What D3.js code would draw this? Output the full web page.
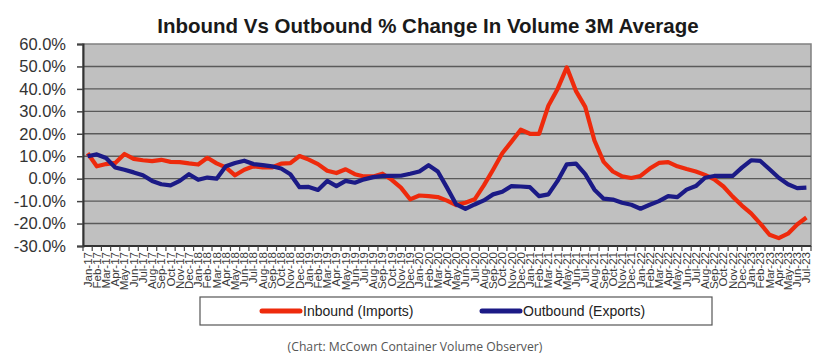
<!DOCTYPE html>
<html>
<head>
    <title></title>
    <meta charset="utf-8" />
    <script src="https://cdn.jsdelivr.net/npm/d3@7"></script>
    <style>
        body { margin: 0; background: #fff; }
        text { font-family: Arial, "Liberation Sans", sans-serif; }
    </style>
</head>
<body>
    <script>
        // months Jan-17 .. Jul-23
        var monthNames = ['Jan', 'Feb', 'Mar', 'Apr', 'May', 'Jun', 'Jul', 'Aug', 'Sep', 'Oct', 'Nov', 'Dec'];
        var months = [];
        for (var y = 17; y <= 23; y++) {
            for (var m = 0; m < 12; m++) {
                if (y == 23 && m > 6) break;
                months.push(monthNames[m] + '-' + y);
            }
        }

        var inbound = [11.3, 5.5, 6.5, 7, 11, 8.8, 8.2, 7.8, 8.4, 7.5, 7.4, 6.8,
            6.3, 9.3, 6.8, 5, 1.5, 4, 5.5, 5, 5, 6.7, 6.9, 10.1,
            8.5, 6.5, 3.5, 2.5, 4.2, 2, 1, 1, 2.2, -0.5, -4, -9.2,
            -7.5, -7.8, -8.2, -9.8, -11.8, -10.7, -9.2, -3, 4, 11.3, 16.5, 21.8,
            20, 20, 32.5, 40, 49.6, 39, 32, 17, 7.5, 3.2, 1, 0.3,
            1.2, 4.5, 7, 7.4, 5.5, 4.3, 3.2, 1.7, -0.3, -3.5, -8, -12,
            -15.5, -20, -25, -26.5, -24.5, -20.4, -17.3];

        var outbound = [10, 10.8, 9.2, 5, 4, 2.8, 1.5, -1, -2.5, -3, -1, 2,
            -0.5, 0.5, 0, 5.5, 7, 8, 6.5, 6, 5.5, 4.5, 2, -3.8,
            -3.7, -5, -1, -3.3, -1, -1.8, -0.3, 0.7, 1.2, 1.2, 1.3, 2.2,
            3.2, 6, 3.2, -4, -11.5, -13.5, -11.5, -9.7, -7, -5.8, -3.3, -3.5,
            -3.8, -7.8, -7, -1, 6.4, 6.7, 2, -4.9, -8.9, -9.3, -10.7, -11.6,
            -13.4, -11.6, -10, -7.8, -8.2, -4.9, -3.3, 0.4, 1.2, 1.2, 1.2, 4.9,
            8.2, 7.9, 4.2, 0.4, -2.5, -4.2, -4];

        var yTicks = [-30, -20, -10, 0, 10, 20, 30, 40, 50, 60];

        var width = 838, height = 362;
        var plotLeft = 83, plotRight = 811, plotTop = 44, plotBottom = 246;

        var svg = d3.select('body').append('svg').attr('width', width).attr('height', height);

        var x = d3.scaleBand().domain(months).range([plotLeft, plotRight]);
        var yScale = d3.scaleLinear().domain([-30, 60]).range([plotBottom, plotTop]);

        // title
        svg.append('text')
            .attr('x', 428).attr('y', 33)
            .attr('text-anchor', 'middle')
            .style('font-size', '20.5px').style('font-weight', 'bold')
            .attr('fill', '#1a1a1a')
            .text('Inbound Vs Outbound % Change In Volume 3M Average');

        // plot area
        svg.append('rect')
            .attr('x', plotLeft).attr('y', plotTop)
            .attr('width', plotRight - plotLeft).attr('height', plotBottom - plotTop)
            .attr('fill', '#c0c0c0')
            .attr('stroke', '#808080').attr('stroke-width', 1.5);

        // grid
        svg.selectAll('.grid').data(yTicks.filter(function (d) { return d > -30 && d < 60; }))
            .enter().append('line')
            .attr('class', 'grid')
            .attr('x1', plotLeft).attr('x2', plotRight)
            .attr('y1', function (d) { return yScale(d); })
            .attr('y2', function (d) { return yScale(d); })
            .attr('stroke', '#5a5a5a').attr('stroke-width', 1.4);

        // y axis
        var yAxis = d3.axisLeft(yScale)
            .tickValues(yTicks)
            .tickSize(6)
            .tickPadding(11)
            .tickFormat(function (d) { return d.toFixed(1) + '%'; });
        var gy = svg.append('g').attr('transform', 'translate(' + plotLeft + ',0)').call(yAxis);
        gy.select('.domain').attr('stroke', '#333').attr('stroke-width', 2);
        gy.selectAll('.tick line').attr('stroke', '#444').attr('stroke-width', 1.5);
        gy.selectAll('.tick text')
            .style('font-size', '16.5px')
            .style('font-family', 'Arial, "Liberation Sans", sans-serif')
            .attr('fill', '#333');

        // x axis
        var gx = svg.append('g').attr('transform', 'translate(0,' + plotBottom + ')');
        gx.append('line')
            .attr('x1', plotLeft).attr('x2', plotRight)
            .attr('y1', 0).attr('y2', 0)
            .attr('stroke', '#333').attr('stroke-width', 2);
        gx.selectAll('.xt').data(months.concat(['end']))
            .enter().append('line')
            .attr('x1', function (d, i) { return plotLeft + i * x.step(); })
            .attr('x2', function (d, i) { return plotLeft + i * x.step(); })
            .attr('y1', 0).attr('y2', 5)
            .attr('stroke', '#444').attr('stroke-width', 1.2);
        gx.selectAll('.xl').data(months)
            .enter().append('text')
            .attr('transform', function (d) {
                return 'translate(' + (x(d) + x.bandwidth() / 2 + 4) + ',6) rotate(-90)';
            })
            .attr('text-anchor', 'end')
            .style('font-size', '11.5px')
            .attr('fill', '#3a3a3a')
            .text(function (d) { return d; });

        // lines
        var line = d3.line()
            .x(function (d, i) { return x(months[i]) + x.bandwidth() / 2; })
            .y(function (d) { return yScale(d); });

        svg.append('path').datum(inbound)
            .attr('d', line)
            .attr('fill', 'none')
            .attr('stroke', '#ee2a0c').attr('stroke-width', 4.2)
            .attr('stroke-linejoin', 'round');

        svg.append('path').datum(outbound)
            .attr('d', line)
            .attr('fill', 'none')
            .attr('stroke', '#1b1a86').attr('stroke-width', 4.2)
            .attr('stroke-linejoin', 'round');

        // legend
        var legend = svg.append('g');
        legend.append('rect')
            .attr('x', 200).attr('y', 297).attr('width', 512).attr('height', 28)
            .attr('fill', '#fff').attr('stroke', '#555').attr('stroke-width', 1.2);
        var items = [
            { name: 'Inbound (Imports)', color: '#ee2a0c', lx: 262 },
            { name: 'Outbound (Exports)', color: '#1b1a86', lx: 482 }
        ];
        items.forEach(function (it) {
            legend.append('line')
                .attr('x1', it.lx).attr('x2', it.lx + 38)
                .attr('y1', 311).attr('y2', 311)
                .attr('stroke', it.color).attr('stroke-width', 5)
                .attr('stroke-linecap', 'round');
            legend.append('text')
                .attr('x', it.lx + 41).attr('y', 316)
                .style('font-size', '14px')
                .attr('fill', '#222')
                .text(it.name);
        });

        // source
        svg.append('text')
            .attr('x', 415).attr('y', 351)
            .attr('text-anchor', 'middle')
            .style('font-family', '"Open Sans", sans-serif')
            .style('font-size', '12.2px')
            .attr('fill', '#555')
            .text('(Chart: McCown Container Volume Observer)');
    </script>
</body>
</html>
